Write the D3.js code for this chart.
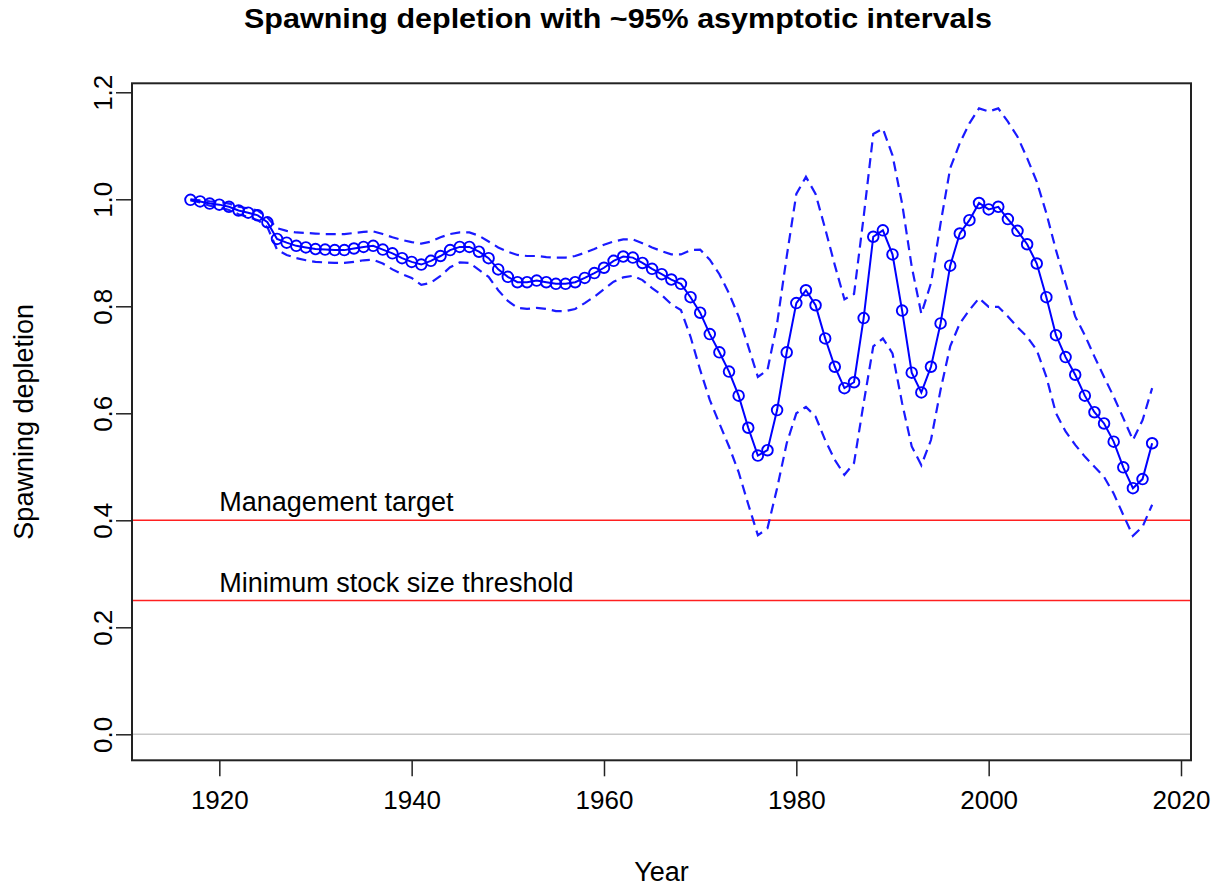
<!DOCTYPE html>
<html>
<head>
<meta charset="utf-8">
<script src="https://cdn.jsdelivr.net/npm/d3@7"></script>
<style>
  html, body { margin: 0; padding: 0; background: #fff; }
  svg { display: block; font-family: "Liberation Sans", Arial, sans-serif; }
</style>
</head>
<body>
<svg id="chart" width="1221" height="886"></svg>
<script>
const years = d3.range(1917, 2018);

const depletion = [
  0.999, 0.996, 0.992, 0.990, 0.986, 0.979, 0.975, 0.970, 0.957, 0.926,
  0.919, 0.913, 0.910, 0.907, 0.906, 0.905, 0.905, 0.908, 0.911, 0.913,
  0.906, 0.899, 0.890, 0.883, 0.878, 0.885, 0.894, 0.905, 0.911, 0.911,
  0.902, 0.890, 0.869, 0.855, 0.845, 0.845, 0.848, 0.845, 0.842, 0.842,
  0.845, 0.853, 0.862, 0.872, 0.885, 0.893, 0.891, 0.881, 0.870, 0.860,
  0.850, 0.842, 0.817, 0.788, 0.748, 0.714, 0.678, 0.633, 0.573, 0.521,
  0.531, 0.606, 0.714, 0.806, 0.830, 0.802, 0.740, 0.687, 0.647, 0.658,
  0.778, 0.930, 0.942, 0.897, 0.792, 0.676, 0.639, 0.687, 0.768, 0.876,
  0.936, 0.961, 0.993, 0.981, 0.986, 0.963, 0.941, 0.916, 0.880, 0.817,
  0.746, 0.705, 0.672, 0.633, 0.602, 0.581, 0.547, 0.499, 0.460, 0.477,
  0.544
];

const upperCI = [
  1.000, 0.998, 0.996, 0.995, 0.992, 0.986, 0.983, 0.979, 0.966, 0.946,
  0.941, 0.938, 0.937, 0.936, 0.935, 0.935, 0.935, 0.937, 0.939, 0.940,
  0.935, 0.929, 0.924, 0.920, 0.917, 0.921, 0.929, 0.935, 0.938, 0.938,
  0.932, 0.921, 0.910, 0.902, 0.896, 0.894, 0.894, 0.892, 0.891, 0.891,
  0.894, 0.900, 0.907, 0.915, 0.921, 0.925, 0.925, 0.918, 0.910, 0.903,
  0.897, 0.897, 0.905, 0.906, 0.887, 0.860, 0.824, 0.781, 0.725, 0.668,
  0.681, 0.768, 0.893, 1.010, 1.042, 1.010, 0.945, 0.877, 0.813, 0.823,
  0.967, 1.122, 1.132, 1.082, 0.992, 0.874, 0.786, 0.843, 0.955, 1.058,
  1.105, 1.142, 1.170, 1.164, 1.170, 1.145, 1.117, 1.077, 1.033, 0.974,
  0.905, 0.843, 0.781, 0.746, 0.706, 0.668, 0.631, 0.591, 0.550, 0.587,
  0.647
];

const lowerCI = [
  0.998, 0.994, 0.988, 0.985, 0.980, 0.972, 0.967, 0.961, 0.948, 0.906,
  0.896, 0.890, 0.886, 0.883, 0.882, 0.881, 0.881, 0.883, 0.886, 0.887,
  0.880, 0.869, 0.860, 0.853, 0.840, 0.844, 0.857, 0.873, 0.882, 0.881,
  0.868, 0.855, 0.830, 0.810, 0.797, 0.795, 0.797, 0.795, 0.791, 0.791,
  0.795, 0.806, 0.818, 0.832, 0.846, 0.854, 0.857, 0.849, 0.834, 0.821,
  0.804, 0.793, 0.743, 0.681, 0.625, 0.581, 0.538, 0.490, 0.430, 0.372,
  0.385, 0.460, 0.544, 0.600, 0.612, 0.594, 0.550, 0.513, 0.485, 0.507,
  0.619, 0.725, 0.740, 0.712, 0.619, 0.538, 0.503, 0.550, 0.644, 0.725,
  0.768, 0.793, 0.815, 0.799, 0.799, 0.781, 0.761, 0.743, 0.718, 0.668,
  0.600, 0.566, 0.541, 0.519, 0.500, 0.481, 0.450, 0.410, 0.371, 0.388,
  0.429
];

const xTicks = [1920, 1940, 1960, 1980, 2000, 2020];
const yTicks = [0.0, 0.2, 0.4, 0.6, 0.8, 1.0, 1.2];
const refLines = [
  { value: 0.4, label: "Management target" },
  { value: 0.25, label: "Minimum stock size threshold" }
];
const titleText = "Spawning depletion with ~95% asymptotic intervals";
const xLabel = "Year";
const yLabel = "Spawning depletion";

const svg = d3.select("#chart");
const box = { left: 132, right: 1191, top: 83.3, bottom: 760.3 };

const x = d3.scaleLinear().domain([1910.92, 2021.04]).range([box.left, box.right]);
const y = d3.scaleLinear().domain([-0.0486, 1.2168]).range([box.bottom, box.top]);

const data = years.map((yr, i) => ({ yr, v: depletion[i], lo: lowerCI[i], hi: upperCI[i] }));

// zero line
svg.append("line")
  .attr("x1", box.left).attr("x2", box.right)
  .attr("y1", y(0)).attr("y2", y(0))
  .attr("stroke", "#c8c8c8").attr("stroke-width", 1.5);

// reference lines
refLines.forEach(r => {
  svg.append("line")
    .attr("x1", box.left).attr("x2", box.right)
    .attr("y1", y(r.value)).attr("y2", y(r.value))
    .attr("stroke", "#ff2020").attr("stroke-width", 1.6);
  svg.append("text")
    .attr("x", x(1920)).attr("y", y(r.value) - 9)
    .attr("font-size", 27).attr("fill", "#000")
    .text(r.label);
});

// CI dashed
const ciStyle = sel => sel.attr("fill", "none").attr("stroke", "#1a1aff")
  .attr("stroke-width", 2.2).attr("stroke-dasharray", "10,6");
svg.append("path").datum(data)
  .attr("d", d3.line().x(d => x(d.yr)).y(d => y(d.hi)))
  .call(ciStyle);
svg.append("path").datum(data)
  .attr("d", d3.line().x(d => x(d.yr)).y(d => y(d.lo)))
  .call(ciStyle);

// main line
svg.append("path").datum(data)
  .attr("d", d3.line().x(d => x(d.yr)).y(d => y(d.v)))
  .attr("fill", "none").attr("stroke", "#0000ff").attr("stroke-width", 2);

svg.append("g").selectAll("circle").data(data).join("circle")
  .attr("cx", d => x(d.yr)).attr("cy", d => y(d.v)).attr("r", 5.3)
  .attr("fill", "none").attr("stroke", "#0000ff").attr("stroke-width", 1.9);

// box
svg.append("rect")
  .attr("x", box.left).attr("y", box.top)
  .attr("width", box.right - box.left).attr("height", box.bottom - box.top)
  .attr("fill", "none").attr("stroke", "#222").attr("stroke-width", 2);

// axes
const xAxis = svg.append("g")
  .attr("transform", `translate(0,${box.bottom})`)
  .call(d3.axisBottom(x).tickValues(xTicks).tickSize(16).tickPadding(14).tickFormat(d3.format("d")));
xAxis.select(".domain").remove();
xAxis.selectAll("line").attr("stroke", "#222").attr("stroke-width", 1.5);
xAxis.selectAll("text").attr("font-size", 26).attr("fill", "#000")
  .attr("font-family", "Liberation Sans, Arial, sans-serif");

const yAxis = svg.append("g")
  .attr("transform", `translate(${box.left},0)`)
  .call(d3.axisLeft(y).tickValues(yTicks).tickSize(16).tickFormat(d3.format(".1f")));
yAxis.select(".domain").remove();
yAxis.selectAll("line").attr("stroke", "#222").attr("stroke-width", 1.5);
yAxis.selectAll("text")
  .attr("font-size", 26).attr("fill", "#000")
  .attr("font-family", "Liberation Sans, Arial, sans-serif")
  .attr("x", null).attr("dy", null)
  .attr("text-anchor", "middle")
  .attr("transform", "translate(-20,0) rotate(-90)");

// labels
svg.append("text")
  .attr("x", 618).attr("y", 28)
  .attr("text-anchor", "middle").attr("font-size", 27).attr("font-weight", "bold").attr("fill", "#000")
  .attr("textLength", 748).attr("lengthAdjust", "spacingAndGlyphs")
  .text(titleText);

svg.append("text")
  .attr("x", (box.left + box.right) / 2).attr("y", 881)
  .attr("text-anchor", "middle").attr("font-size", 27).attr("fill", "#000")
  .text(xLabel);

svg.append("text")
  .attr("transform", `translate(33,${(box.top + box.bottom) / 2}) rotate(-90)`)
  .attr("text-anchor", "middle").attr("font-size", 27).attr("fill", "#000")
  .text(yLabel);
</script>
</body>
</html>
